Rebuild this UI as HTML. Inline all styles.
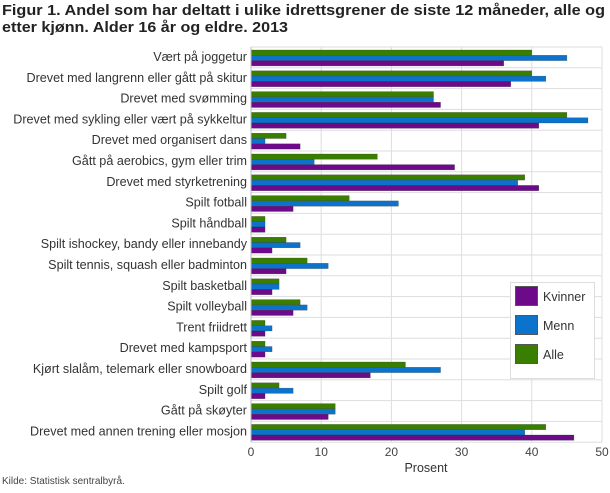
<!DOCTYPE html>
<html><head><meta charset="utf-8"><style>
body{margin:0;background:#fff;width:610px;height:488px;overflow:hidden;font-family:"Liberation Sans",sans-serif;}
.a{fill:#3a7e00}.m{fill:#0b73cc}.k{fill:#6c0a8a}
rect.a,rect.m,rect.k{stroke:#333;stroke-width:0.4;stroke-opacity:0.6}
.l{font-size:12.6px;fill:#333;text-anchor:end}
.t{font-size:12px;fill:#444;text-anchor:middle}
</style></head><body>
<svg width="610" height="488" xmlns="http://www.w3.org/2000/svg" font-family="Liberation Sans, sans-serif">
<text x="2" y="15" font-size="15" font-weight="bold" fill="#222" textLength="603" lengthAdjust="spacingAndGlyphs">Figur 1. Andel som har deltatt i ulike idrettsgrener de siste 12 måneder, alle og</text>
<text x="2" y="32" font-size="15" font-weight="bold" fill="#222" textLength="286" lengthAdjust="spacingAndGlyphs">etter kjønn. Alder 16 år og eldre. 2013</text>
<g stroke="#ddd">
<line x1="251" y1="47" x2="251" y2="442.2"/><line x1="321.2" y1="47" x2="321.2" y2="442.2"/><line x1="391.4" y1="47" x2="391.4" y2="442.2"/><line x1="461.6" y1="47" x2="461.6" y2="442.2"/><line x1="531.8" y1="47" x2="531.8" y2="442.2"/><line x1="602" y1="47" x2="602" y2="442.2"/>
<line x1="251" x2="602" y1="47" y2="47"/><line x1="251" x2="602" y1="67.8" y2="67.8"/><line x1="251" x2="602" y1="88.6" y2="88.6"/><line x1="251" x2="602" y1="109.4" y2="109.4"/><line x1="251" x2="602" y1="130.2" y2="130.2"/><line x1="251" x2="602" y1="151" y2="151"/><line x1="251" x2="602" y1="171.8" y2="171.8"/><line x1="251" x2="602" y1="192.6" y2="192.6"/><line x1="251" x2="602" y1="213.4" y2="213.4"/><line x1="251" x2="602" y1="234.2" y2="234.2"/><line x1="251" x2="602" y1="255" y2="255"/><line x1="251" x2="602" y1="275.8" y2="275.8"/><line x1="251" x2="602" y1="296.6" y2="296.6"/><line x1="251" x2="602" y1="317.4" y2="317.4"/><line x1="251" x2="602" y1="338.2" y2="338.2"/><line x1="251" x2="602" y1="359" y2="359"/><line x1="251" x2="602" y1="379.8" y2="379.8"/><line x1="251" x2="602" y1="400.6" y2="400.6"/><line x1="251" x2="602" y1="421.4" y2="421.4"/><line x1="251" x2="602" y1="442.2" y2="442.2"/>
</g>
<text class="t" x="251" y="456">0</text><text class="t" x="321.2" y="456">10</text><text class="t" x="391.4" y="456">20</text><text class="t" x="461.6" y="456">30</text><text class="t" x="531.8" y="456">40</text><text class="t" x="602" y="456">50</text>

<g transform="translate(0,47)"><text class="l" x="247" y="14">Vært på joggetur</text><rect class="a" x="251" y="3" width="280.8" height="5.3"/><rect class="m" x="251" y="8.3" width="315.9" height="5.3"/><rect class="k" x="251" y="13.6" width="252.72" height="5.3"/></g>
<g transform="translate(0,67.8)"><text class="l" x="247" y="14">Drevet med langrenn eller gått på skitur</text><rect class="a" x="251" y="3" width="280.8" height="5.3"/><rect class="m" x="251" y="8.3" width="294.84" height="5.3"/><rect class="k" x="251" y="13.6" width="259.74" height="5.3"/></g>
<g transform="translate(0,88.6)"><text class="l" x="247" y="14">Drevet med svømming</text><rect class="a" x="251" y="3" width="182.52" height="5.3"/><rect class="m" x="251" y="8.3" width="182.52" height="5.3"/><rect class="k" x="251" y="13.6" width="189.54" height="5.3"/></g>
<g transform="translate(0,109.4)"><text class="l" x="247" y="14">Drevet med sykling eller vært på sykkeltur</text><rect class="a" x="251" y="3" width="315.9" height="5.3"/><rect class="m" x="251" y="8.3" width="336.96" height="5.3"/><rect class="k" x="251" y="13.6" width="287.82" height="5.3"/></g>
<g transform="translate(0,130.2)"><text class="l" x="247" y="14">Drevet med organisert dans</text><rect class="a" x="251" y="3" width="35.1" height="5.3"/><rect class="m" x="251" y="8.3" width="14.04" height="5.3"/><rect class="k" x="251" y="13.6" width="49.14" height="5.3"/></g>
<g transform="translate(0,151)"><text class="l" x="247" y="14">Gått på aerobics, gym eller trim</text><rect class="a" x="251" y="3" width="126.36" height="5.3"/><rect class="m" x="251" y="8.3" width="63.18" height="5.3"/><rect class="k" x="251" y="13.6" width="203.58" height="5.3"/></g>
<g transform="translate(0,171.8)"><text class="l" x="247" y="14">Drevet med styrketrening</text><rect class="a" x="251" y="3" width="273.78" height="5.3"/><rect class="m" x="251" y="8.3" width="266.76" height="5.3"/><rect class="k" x="251" y="13.6" width="287.82" height="5.3"/></g>
<g transform="translate(0,192.6)"><text class="l" x="247" y="14">Spilt fotball</text><rect class="a" x="251" y="3" width="98.28" height="5.3"/><rect class="m" x="251" y="8.3" width="147.42" height="5.3"/><rect class="k" x="251" y="13.6" width="42.12" height="5.3"/></g>
<g transform="translate(0,213.4)"><text class="l" x="247" y="14">Spilt håndball</text><rect class="a" x="251" y="3" width="14.04" height="5.3"/><rect class="m" x="251" y="8.3" width="14.04" height="5.3"/><rect class="k" x="251" y="13.6" width="14.04" height="5.3"/></g>
<g transform="translate(0,234.2)"><text class="l" x="247" y="14">Spilt ishockey, bandy eller innebandy</text><rect class="a" x="251" y="3" width="35.1" height="5.3"/><rect class="m" x="251" y="8.3" width="49.14" height="5.3"/><rect class="k" x="251" y="13.6" width="21.06" height="5.3"/></g>
<g transform="translate(0,255)"><text class="l" x="247" y="14">Spilt tennis, squash eller badminton</text><rect class="a" x="251" y="3" width="56.16" height="5.3"/><rect class="m" x="251" y="8.3" width="77.22" height="5.3"/><rect class="k" x="251" y="13.6" width="35.1" height="5.3"/></g>
<g transform="translate(0,275.8)"><text class="l" x="247" y="14">Spilt basketball</text><rect class="a" x="251" y="3" width="28.08" height="5.3"/><rect class="m" x="251" y="8.3" width="28.08" height="5.3"/><rect class="k" x="251" y="13.6" width="21.06" height="5.3"/></g>
<g transform="translate(0,296.6)"><text class="l" x="247" y="14">Spilt volleyball</text><rect class="a" x="251" y="3" width="49.14" height="5.3"/><rect class="m" x="251" y="8.3" width="56.16" height="5.3"/><rect class="k" x="251" y="13.6" width="42.12" height="5.3"/></g>
<g transform="translate(0,317.4)"><text class="l" x="247" y="14">Trent friidrett</text><rect class="a" x="251" y="3" width="14.04" height="5.3"/><rect class="m" x="251" y="8.3" width="21.06" height="5.3"/><rect class="k" x="251" y="13.6" width="14.04" height="5.3"/></g>
<g transform="translate(0,338.2)"><text class="l" x="247" y="14">Drevet med kampsport</text><rect class="a" x="251" y="3" width="14.04" height="5.3"/><rect class="m" x="251" y="8.3" width="21.06" height="5.3"/><rect class="k" x="251" y="13.6" width="14.04" height="5.3"/></g>
<g transform="translate(0,359)"><text class="l" x="247" y="14">Kjørt slalåm, telemark eller snowboard</text><rect class="a" x="251" y="3" width="154.44" height="5.3"/><rect class="m" x="251" y="8.3" width="189.54" height="5.3"/><rect class="k" x="251" y="13.6" width="119.34" height="5.3"/></g>
<g transform="translate(0,379.8)"><text class="l" x="247" y="14">Spilt golf</text><rect class="a" x="251" y="3" width="28.08" height="5.3"/><rect class="m" x="251" y="8.3" width="42.12" height="5.3"/><rect class="k" x="251" y="13.6" width="14.04" height="5.3"/></g>
<g transform="translate(0,400.6)"><text class="l" x="247" y="14">Gått på skøyter</text><rect class="a" x="251" y="3" width="84.24" height="5.3"/><rect class="m" x="251" y="8.3" width="84.24" height="5.3"/><rect class="k" x="251" y="13.6" width="77.22" height="5.3"/></g>
<g transform="translate(0,421.4)"><text class="l" x="247" y="14">Drevet med annen trening eller mosjon</text><rect class="a" x="251" y="3" width="294.84" height="5.3"/><rect class="m" x="251" y="8.3" width="273.78" height="5.3"/><rect class="k" x="251" y="13.6" width="322.92" height="5.3"/></g>

<line x1="251" y1="47" x2="251" y2="442.2" stroke="#bbb"/>
<text x="426" y="472" font-size="12.5" fill="#333" text-anchor="middle">Prosent</text>
<text x="2" y="484" font-size="10" fill="#444">Kilde: Statistisk sentralbyrå.</text>
<rect x="510.5" y="282.5" width="84" height="96" fill="#fff" stroke="#ddd"/>
<rect x="515.5" y="286.5" width="22" height="19" fill="#6c0a8a" stroke="#555"/>
<rect x="515.5" y="315.5" width="22" height="19" fill="#0b73cc" stroke="#555"/>
<rect x="515.5" y="344.5" width="22" height="19" fill="#3a7e00" stroke="#555"/>
<text x="543" y="301" font-size="12.5" fill="#333">Kvinner</text>
<text x="543" y="330" font-size="12.5" fill="#333">Menn</text>
<text x="543" y="359" font-size="12.5" fill="#333">Alle</text>
</svg>
</body></html>
